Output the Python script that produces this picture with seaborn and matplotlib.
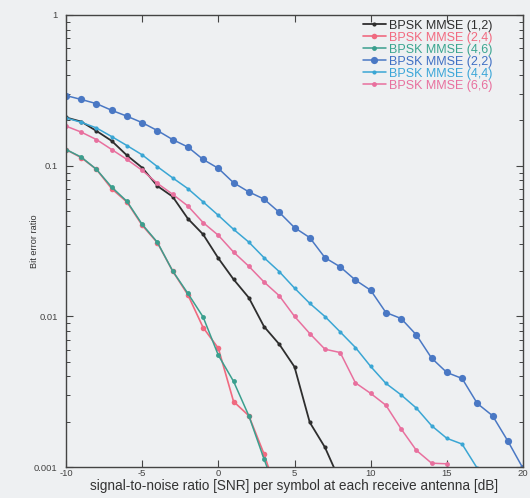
import numpy as np
import pandas as pd
import matplotlib
matplotlib.use("Agg")
import matplotlib.pyplot as plt
import seaborn as sns
from matplotlib.ticker import LogLocator, FixedLocator, NullFormatter, FixedFormatter

# SNR grid (dB) and bit error ratios for each MMSE configuration
snr = list(range(-10, 21))

ber_1_2 = [0.209, 0.196, 0.170, 0.146, 0.117, 0.097, 0.0733, 0.0623, 0.0445, 0.035,
           0.0243, 0.0176, 0.0133, 0.00855, 0.00653, 0.00462, 0.00198, 0.00135, 0.00080]
ber_2_4 = [0.128, 0.113, 0.0945, 0.0703, 0.0574, 0.0402, 0.0308, 0.0200, 0.0139, 0.00843,
           0.00614, 0.00272, 0.00219, 0.00122, 0.00060]
ber_4_6 = [0.128, 0.114, 0.0945, 0.072, 0.058, 0.0408, 0.031, 0.0200, 0.0142, 0.0099,
           0.00552, 0.0037, 0.00219, 0.00113, 0.00060]
ber_2_2 = [0.292, 0.275, 0.258, 0.233, 0.213, 0.193, 0.171, 0.149, 0.133, 0.110,
           0.096, 0.077, 0.067, 0.060, 0.049, 0.0388, 0.0333, 0.0245, 0.0213, 0.0174,
           0.0149, 0.0106, 0.00967, 0.00753, 0.00528, 0.00424, 0.00387, 0.00264, 0.00219,
           0.00149, 0.00098]
ber_4_4 = [0.2075, 0.194, 0.178, 0.156, 0.136, 0.118, 0.0985, 0.083, 0.0704, 0.0575,
           0.0468, 0.0378, 0.0311, 0.0245, 0.0198, 0.0154, 0.0122, 0.00997, 0.00788, 0.00621,
           0.00465, 0.00359, 0.00301, 0.00246, 0.00188, 0.00155, 0.00142, 0.00098]
ber_6_6 = [0.183, 0.167, 0.149, 0.128, 0.110, 0.0931, 0.0763, 0.0646, 0.054, 0.0419,
           0.0345, 0.0267, 0.0215, 0.0169, 0.0137, 0.0100, 0.00769, 0.00605, 0.00575, 0.00362,
           0.00308, 0.00257, 0.00179, 0.00129, 0.00106, 0.00105]

labels = ["BPSK MMSE (1,2)", "BPSK MMSE (2,4)", "BPSK MMSE (4,6)",
          "BPSK MMSE (2,2)", "BPSK MMSE (4,4)", "BPSK MMSE (6,6)"]
series = [ber_1_2, ber_2_4, ber_4_6, ber_2_2, ber_4_4, ber_6_6]

x_ticks = [-10, -5, 0, 5, 10, 15, 20]
y_ticks = [0.001, 0.01, 0.1, 1]
y_tick_labels = ["0.001", "0.01", "0.1", "1"]

rows = []
for lab, vals in zip(labels, series):
    for s, b in zip(snr, vals):
        rows.append({"snr": s, "ber": b, "config": lab})
df = pd.DataFrame(rows)

sns.set_style("ticks")
plt.rcParams["font.family"] = ["Liberation Sans", "DejaVu Sans"]

styles = {
    "BPSK MMSE (1,2)": dict(color="#2e2e2e", text="#2e2e2e", marker="o", ms=3.0, lw=1.3),
    "BPSK MMSE (2,4)": dict(color="#f06a80", text="#f26a80", marker="o", ms=4.0, lw=1.2),
    "BPSK MMSE (4,6)": dict(color="#3a9f8e", text="#3aa58f", marker="o", ms=3.5, lw=1.1),
    "BPSK MMSE (2,2)": dict(color="#4a78c4", text="#3f6fc4", marker="o", ms=5.2, lw=1.1),
    "BPSK MMSE (4,4)": dict(color="#3aa6d4", text="#3aa6d8", marker="o", ms=3.0, lw=1.1),
    "BPSK MMSE (6,6)": dict(color="#e8709e", text="#e8709e", marker="o", ms=3.5, lw=1.1),
}

bg = "#eef0f2"
fig = plt.figure(figsize=(5.30, 4.98), dpi=100, facecolor=bg)
ax = fig.add_axes([66 / 530, 1 - 467 / 498, (523 - 66) / 530, (467 - 15) / 498])
ax.set_facecolor(bg)

for lab in labels:
    st = styles[lab]
    sns.lineplot(data=df[df["config"] == lab], x="snr", y="ber", ax=ax,
                 color=st["color"], marker=st["marker"], markersize=st["ms"],
                 markeredgewidth=0, linewidth=st["lw"], label=lab)

ax.set_yscale("log")
ax.set_xlim(-10, 20)
ax.set_ylim(0.001, 1)

ax.xaxis.set_major_locator(FixedLocator(x_ticks))
ax.set_xticklabels([str(t) for t in x_ticks])
ax.yaxis.set_major_locator(FixedLocator(y_ticks))
ax.yaxis.set_major_formatter(FixedFormatter(y_tick_labels))
ax.yaxis.set_minor_locator(LogLocator(base=10, subs=np.arange(2, 10), numticks=20))
ax.yaxis.set_minor_formatter(NullFormatter())

ax.tick_params(axis="both", which="major", direction="in", top=True, right=True,
               length=5, width=0.8, labelsize=6.8, colors="#444444")
ax.tick_params(axis="y", which="major", pad=6)
ax.tick_params(axis="x", which="major", pad=1.5)
ax.tick_params(axis="both", which="minor", direction="in", top=True, right=True,
               length=3, width=0.6)
for sp in ax.spines.values():
    sp.set_color("#444444")
    sp.set_linewidth(1.0)

ax.set_xlabel("signal-to-noise ratio [SNR] per symbol at each receive antenna [dB]",
              fontsize=9.8, color="#333333", labelpad=1)
ax.set_ylabel("Bit error ratio", fontsize=6.6, color="#333333")
ax.yaxis.set_label_coords(-0.06, 0.5)

leg = ax.legend(loc="upper right", frameon=False, fontsize=9.0, handlelength=1.8,
                handletextpad=0.3, labelspacing=0.0, borderaxespad=0, borderpad=0,
                bbox_to_anchor=(0.934, 0.99))
for txt, lab in zip(leg.get_texts(), labels):
    txt.set_color(styles[lab]["text"])

fig.savefig("out.png", dpi=100, facecolor=bg)
